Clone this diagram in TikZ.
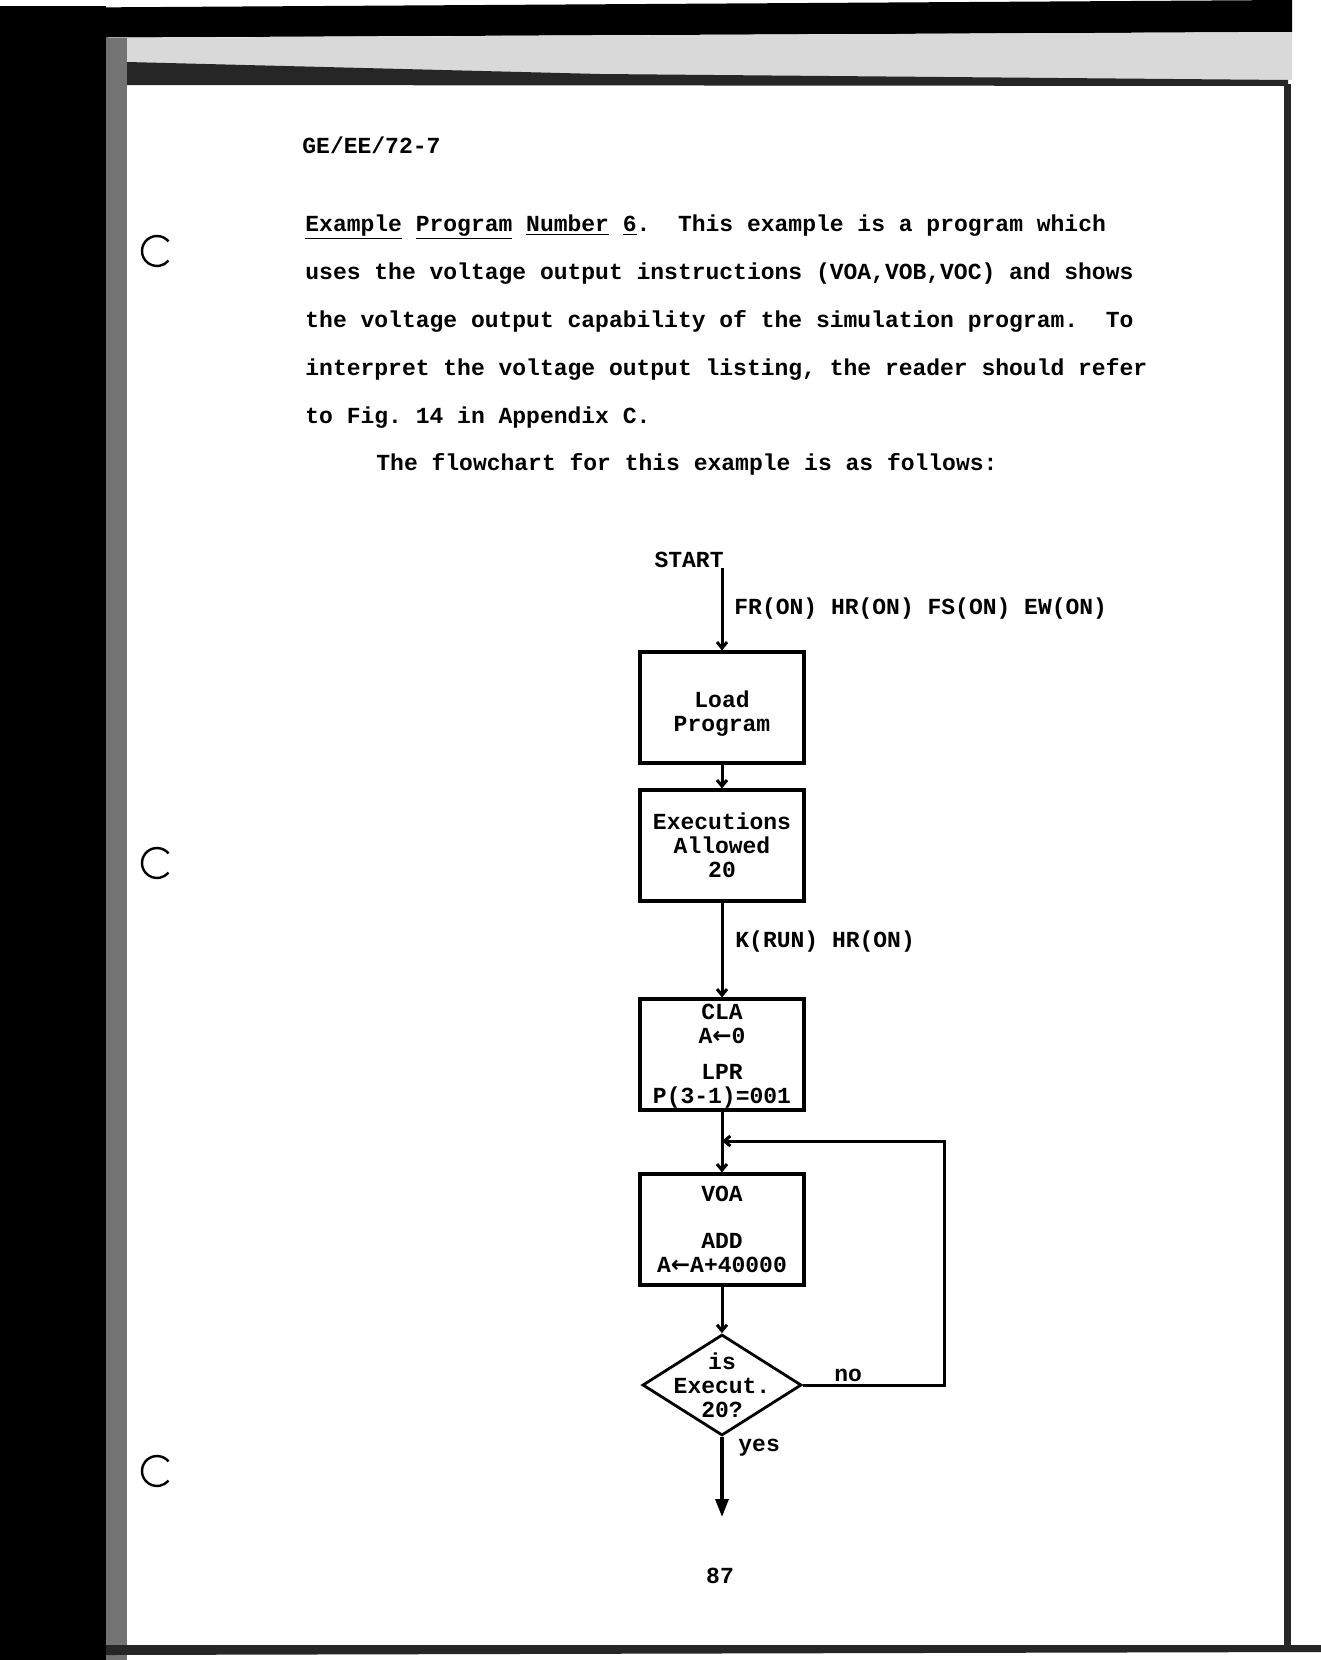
\documentclass[tikz,border=0pt]{standalone}
\usepackage{fontspec}
\newfontfamily\typew{Liberation Mono}[WordSpace={1,0,0}]
\newfontfamily\arrf{DejaVu Sans}
\newcommand{\larr}{{\arrf\bfseries ←}}
\usetikzlibrary{arrows.meta,shapes.geometric}
\begin{document}
\begin{tikzpicture}[x=0.5pt,y=-0.5pt,
  tfont/.style={font=\typew\bfseries\frenchspacing\fontsize{11.5}{12}\selectfont},
  txt/.style={tfont, inner sep=0pt, anchor=base west},
  ctxt/.style={tfont, inner sep=0pt, align=center},
  stepbox/.style={tfont, draw, line width=1.6pt, minimum width=82pt, minimum height=55.5pt, inner sep=0pt, align=center},
  decbox/.style={draw, diamond, line width=1.4pt, minimum width=79.5pt, minimum height=50.5pt, inner sep=0pt},
  conn/.style={line width=1.5pt, -{Straight Barb[length=3pt,width=5pt]}},
  lastconn/.style={line width=1.6pt, -{Triangle[length=9pt,width=6.5pt]}},
  hole/.style={line width=1.2pt}
]
\useasboundingbox (0,0) rectangle (1321,1660);
\fill[white] (0,0) rectangle (1321,1660);
% scan borders
\fill[black] (0,8) -- (1292,0) -- (1292,32) -- (0,38) -- cycle;
\fill[black!15] (106,38) -- (1292,32) -- (1292,80) -- (127,84) -- cycle;
\fill[black] (0,6) rectangle (106,1660);
\fill[black!55] (106,38) rectangle (127,1660);
\fill[black!85] (127,62) -- (600,74) -- (1288,80) -- (1288,86) -- (127,85) -- cycle;
\fill[black!85] (1284,84) rectangle (1291,1652);
\fill[black!85] (106,1645) -- (1321,1645) -- (1321,1652) -- (106,1655) -- cycle;
% punch holes
\draw[hole] (157,251) ++(40:7.5pt) arc[start angle=40,end angle=320,radius=7.5pt];
\draw[hole] (157,863) ++(40:7.5pt) arc[start angle=40,end angle=320,radius=7.5pt];
\draw[hole] (157,1471) ++(40:7.5pt) arc[start angle=40,end angle=320,radius=7.5pt];
% page text
\node[txt] (hdr) at (302,153) {GE/EE/72-7};
\node[txt] (p1) at (305,231) {\underline{Example} \underline{Program} \underline{Number} \underline{6}.~~This example is a program which};
\node[txt] (p2) at (305,279) {uses the voltage output instructions (VOA,VOB,VOC) and shows};
\node[txt] (p3) at (305,327) {the voltage output capability of the simulation program.~~To};
\node[txt] (p4) at (305,375) {interpret the voltage output listing, the reader should refer};
\node[txt] (p5) at (305,423) {to Fig. 14 in Appendix C.};
\node[txt] (p6) at (376,470) {The flowchart for this example is as follows:};
% flowchart
\node[txt, anchor=base east] (start) at (724,567) {START};
\node[stepbox] (load) at (722,707.5) {};
\node[ctxt] (loadtxt) at (722,714) {Load\\Program};
\node[stepbox] (exec) at (722,845.5) {Executions\\Allowed\\20};
\node[stepbox] (cla) at (722,1054.5) {};
\node[ctxt] (clatxt) at (722,1056.5) {CLA\\A\larr 0\\[6pt]LPR\\P(3-1)=001};
\node[stepbox] (voa) at (722,1229.5) {VOA\\[11.5pt]ADD\\A\larr A+40000};
\node[decbox] (dec) at (722,1385) {};
\node[ctxt] (dectxt) at (dec.center) {is\\Execut.\\20?};
\coordinate (join) at (722,1141);
\coordinate (rb) at (944,1385);
\coordinate (rt) at (944,1141);
\coordinate (fin) at (722,1517);
\draw[conn] (start.south east -| load.north) -- (load.north);
\draw[conn] (load.south) -- (exec.north);
\draw[conn] (exec.south) -- (cla.north);
\draw[conn] (cla.south) -- (voa.north);
\draw[conn] (voa.south) -- (dec.north);
\draw[conn] (dec.east) -- (rb) -- (rt) -- (join);
\draw[lastconn] (dec.south) -- (fin);
% labels
\node[txt] (l1) at (734,614) {FR(ON) HR(ON) FS(ON) EW(ON)};
\node[txt] (l2) at (735,947) {K(RUN) HR(ON)};
\node[txt] (lno) at (834,1381) {no};
\node[txt] (lyes) at (738,1451) {yes};
\node[txt, anchor=base] (pg) at (720,1583) {87};
\end{tikzpicture}
\end{document}
